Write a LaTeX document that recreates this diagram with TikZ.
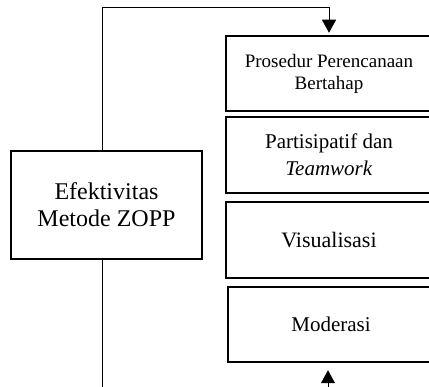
\documentclass[tikz,border=0pt]{standalone}
\usepackage{fontspec}
\setmainfont{Liberation Serif}
\usetikzlibrary{arrows.meta}

\begin{document}
\begin{tikzpicture}[x=1pt,y=-1pt,
  kotak/.style={draw,line width=2.5pt,inner sep=0pt,align=center},
  kotakkanan/.style={kotak,minimum width=206pt,minimum height=75pt},
  garis/.style={line width=1pt},
  panah/.style={garis,-{Triangle[width=14pt,length=13pt]}}]
  \clip (0,0) rectangle (429,387);

  % kotak kiri
  \node[kotak,minimum width=191pt,minimum height=108pt,font=\fontsize{24}{27}\selectfont] (zopp) at (106.5,205) {Efektivitas\\Metode ZOPP};

  % kotak kanan
  \node[kotakkanan,font=\fontsize{19}{22}\selectfont] (prosedur) at (329,73.5) {Prosedur Perencanaan\\Bertahap};
  \node[kotakkanan,minimum height=76pt,font=\fontsize{21}{27}\selectfont] (partisipatif) at (329,155) {Partisipatif dan\\\textit{Teamwork}};
  \node[kotakkanan,minimum height=76pt,font=\fontsize{22}{26}\selectfont] (visual) at (329,240) {Visualisasi};
  \node[kotakkanan,font=\fontsize{21}{25}\selectfont] (moderasi) at (331,324.5) {Moderasi};

  % garis penghubung
  \coordinate (siku) at (102,8);
  \coordinate (ujung) at (102,395);
  \coordinate (pangkal) at (328,395);
  \draw[panah,shorten >=2pt] (zopp.north -| siku) -- (siku) -| (prosedur.north);
  \draw[garis] (zopp.south -| ujung) -- (ujung);
  \draw[panah,shorten >=7pt] (pangkal) -- (pangkal |- moderasi.south);
\end{tikzpicture}
\end{document}
